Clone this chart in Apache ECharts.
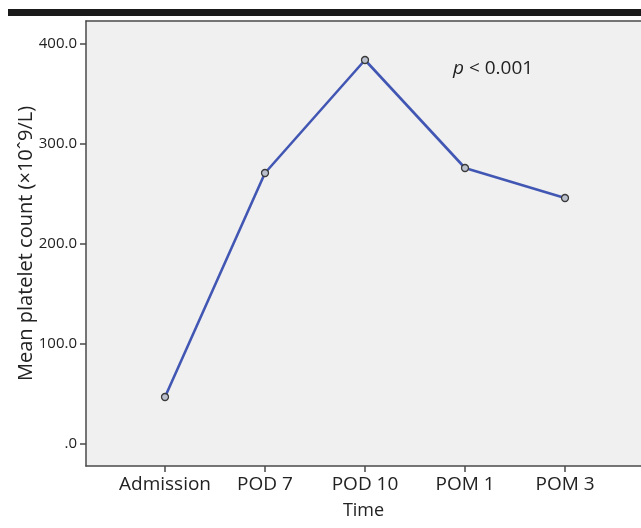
<!DOCTYPE html>
<html>
<head>
<meta charset="utf-8">
<script src="https://cdn.jsdelivr.net/npm/echarts@6/dist/echarts.min.js"></script>
<style>
  html, body { margin: 0; padding: 0; background: #fff; }
  #chart { width: 641px; height: 528px; }
</style>
</head>
<body>
<div id="chart"></div>
<script>
// values
const timePoints = ['Admission', 'POD 7', 'POD 10', 'POM 1', 'POM 3']
const meanPlatelets = [47, 271, 384, 276, 246]
const yTicks = [0, 100, 200, 300, 400]
const yTickLabels = ['.0', '100.0', '200.0', '300.0', '400.0']

const font = '"Open Sans", "Noto Sans", sans-serif'
const axisColor = '#4a4a4a'
const textColor = '#222'

const chart = echarts.init(document.getElementById('chart'))

chart.setOption({
  animation: false,
  backgroundColor: '#fff',
  grid: {
    left: 86,
    right: 0,
    top: 21,
    bottom: 62,
    outerBoundsMode: 'none',
    show: true,
    backgroundColor: '#f0f0f0',
    borderWidth: 0,
  },
  xAxis: [
    {
      type: 'value',
      min: -0.79,
      max: 4.76,
      name: 'Time',
      nameLocation: 'middle',
      nameGap: 36,
      nameMoveOverlap: false,
      nameTextStyle: { color: textColor, fontSize: 18, fontFamily: font },
      splitLine: { show: false },
      axisLine: { onZero: false, lineStyle: { color: axisColor, width: 1.5 } },
      axisTick: {
        customValues: timePoints.map((_, i) => i),
        length: 6,
        lineStyle: { color: axisColor, width: 1.5 },
      },
      axisLabel: {
        customValues: timePoints.map((_, i) => i),
        formatter: (v) => timePoints[Math.round(v)],
        color: textColor,
        fontSize: 19,
        fontFamily: font,
        margin: 9,
      },
    },
    {
      // top border line of the plot frame
      type: 'value',
      position: 'top',
      min: -0.79,
      max: 4.76,
      splitLine: { show: false },
      axisTick: { show: false },
      axisLabel: { show: false },
      axisLine: { onZero: false, lineStyle: { color: axisColor, width: 1.5 } },
    },
  ],
  yAxis: {
    type: 'value',
    min: -22,
    max: 423,
    name: 'Mean platelet count (×10ˆ9/L)',
    nameLocation: 'middle',
    nameGap: 50,
    nameMoveOverlap: false,
    nameTextStyle: { color: textColor, fontSize: 20, fontFamily: font },
    splitLine: { show: false },
    axisLine: { show: true, onZero: false, lineStyle: { color: axisColor, width: 1.5 } },
    axisTick: {
      show: true,
      customValues: yTicks,
      length: 6,
      lineStyle: { color: axisColor, width: 1.5 },
    },
    axisLabel: {
      customValues: yTicks,
      formatter: (v) => yTickLabels[yTicks.indexOf(v)],
      color: textColor,
      fontSize: 15,
      fontFamily: font,
      margin: 9,
    },
  },
  graphic: [
    {
      type: 'rect',
      shape: { x: 8, y: 9, width: 640, height: 7 },
      style: { fill: '#1a1a1a' },
    },
    {
      type: 'text',
      left: 453,
      top: 59,
      style: {
        text: '{i|p} < 0.001',
        fill: textColor,
        font: '19px ' + font,
        rich: {
          i: { fontStyle: 'italic', fontSize: 19, fontFamily: font, fill: textColor },
        },
      },
    },
  ],
  series: [
    {
      type: 'line',
      data: meanPlatelets.map((v, i) => [i, v]),
      symbol: 'circle',
      symbolSize: 7,
      lineStyle: { color: '#4257b3', width: 2.6 },
      itemStyle: { color: '#b9bfcc', borderColor: '#3a3a3a', borderWidth: 1.3 },
    },
  ],
})
</script>
</body>
</html>
